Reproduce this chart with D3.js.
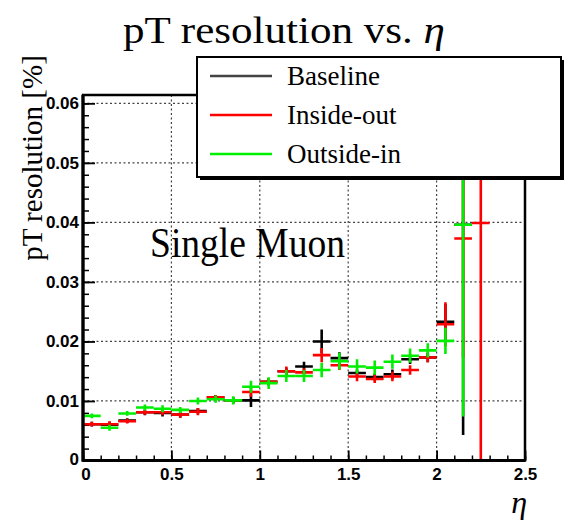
<!DOCTYPE html>
<html>
<head>
<meta charset="utf-8">
<script src="https://cdn.jsdelivr.net/npm/d3@7"></script>
<style>
  html, body { margin: 0; padding: 0; background: #fff; }
  svg { display: block; }
</style>
</head>
<body>
<svg id="chart" width="568" height="523"></svg>
<script>
// ---- data ----
const binCenters = [0.05,0.15,0.25,0.35,0.45,0.55,0.65,0.75,0.85,0.95,1.05,1.15,1.25,1.35,1.45,1.55,1.65,1.75,1.85,1.95,2.05,2.15,2.25];
const binWidth = 0.1;

const baselineValues = [0.0061,0.0060,0.0067,0.0081,0.0080,0.0077,0.0083,0.0106,0.0101,0.0101,0.0132,0.0150,0.0158,0.0200,0.0172,0.0147,0.0140,0.0145,0.0170,0.0173,0.0233,0.0396,null];
const baselineErrors = [0.0004,0.0005,0.0004,0.0005,0.0006,0.0005,0.0005,0.0004,0.0005,0.0011,0.0006,0.0006,0.0008,0.0020,0.0010,0.0006,0.0006,0.0008,0.0008,0.0008,0.0030,0.0353,null];

const insideOutValues = [0.0061,0.0061,0.0066,0.0081,0.0081,0.0077,0.0082,0.0106,0.0101,0.0115,0.0132,0.0150,0.0148,0.0177,0.0160,0.0141,0.0137,0.0141,0.0152,0.0173,0.0229,0.0373,0.0399];
const insideOutErrors = [0.0004,0.0005,0.0004,0.0004,0.0005,0.0005,0.0006,0.0004,0.0005,0.0008,0.0006,0.0008,0.0007,0.0012,0.0008,0.0008,0.0007,0.0008,0.0008,0.0008,0.0037,0.0200,0.0700];

const outsideInValues = [0.0075,0.0055,0.0079,0.0089,0.0087,0.0085,0.0100,0.0103,0.0101,0.0124,0.0130,0.0142,0.0142,0.0152,0.0167,0.0158,0.0156,0.0166,0.0176,0.0185,0.0201,0.0396,null];
const outsideInErrors = [0.0004,0.0005,0.0004,0.0005,0.0006,0.0005,0.0006,0.0006,0.0007,0.0010,0.0010,0.0010,0.0010,0.0012,0.0014,0.0012,0.0012,0.0012,0.0012,0.0012,0.0022,0.0322,null];

const seriesNames = ["Baseline","Inside-out","Outside-in"];
const seriesColors = ["#000000","#ff0000","#00ee00"];
const legendColors = ["#444444","#ff0000","#00ee00"];

const xDomain = [0, 2.5];
const yDomain = [0, 0.0614];
const xTickLabels = ["0","0.5","1","1.5","2","2.5"];
const yTickLabels = ["0","0.01","0.02","0.03","0.04","0.05","0.06"];

const titleText = "pT resolution vs. ";
const titleSymbol = "\u03b7";
const yAxisTitle = "pT resolution [%]";
const xAxisTitle = "\u03b7";
const annotation = "Single Muon";

// ---- layout ----
const pL = 83, pR = 525, pT = 95, pB = 460.5;
const svg = d3.select("#chart");

const x = d3.scaleLinear().domain(xDomain).range([pL, pR]);
const y = d3.scaleLinear().domain(yDomain).range([pB, pT]);

const serif = "'Liberation Serif','Times New Roman',serif";
const sans = "'Liberation Sans',Arial,Helvetica,sans-serif";

// grid
const xMajor = x.ticks(5);
const yMajor = y.ticks(6);
const grid = svg.append("g").attr("stroke", "#444").attr("stroke-width", 1.2).attr("stroke-dasharray", "2,2.5");
grid.selectAll("line.gx").data(xMajor.filter(d => d > 0 && d < 2.5)).enter().append("line")
  .attr("x1", d => x(d)).attr("x2", d => x(d)).attr("y1", pT).attr("y2", pB);
grid.selectAll("line.gy").data(yMajor.filter(d => d > 0)).enter().append("line")
  .attr("y1", d => y(d)).attr("y2", d => y(d)).attr("x1", pL).attr("x2", pR);

// axes: minor ticks
const xMinorAxis = d3.axisBottom(x).ticks(25).tickSize(-5).tickFormat("");
const yMinorAxis = d3.axisLeft(y).ticks(30).tickSize(-6).tickFormat("");
svg.append("g").attr("transform", `translate(0,${pB})`).call(xMinorAxis)
  .call(g => g.select(".domain").remove())
  .selectAll("line").attr("stroke", "#000").attr("stroke-width", 1.5);
svg.append("g").attr("transform", `translate(${pL},0)`).call(yMinorAxis)
  .call(g => g.select(".domain").remove())
  .selectAll("line").attr("stroke", "#000").attr("stroke-width", 1.5);

// axes: major ticks with labels
const xAxis = d3.axisBottom(x).tickValues(xMajor).tickSize(-10).tickPadding(7)
  .tickFormat((d, i) => xTickLabels[i]);
const yAxis = d3.axisLeft(y).tickValues(yMajor).tickSize(-12).tickPadding(4)
  .tickFormat((d, i) => yTickLabels[i]);
const gx = svg.append("g").attr("transform", `translate(0,${pB})`).call(xAxis);
gx.select(".domain").remove();
gx.selectAll("line").attr("stroke", "#000").attr("stroke-width", 1.8);
gx.selectAll("text").attr("font-family", sans).attr("font-weight", "bold").attr("font-size", 17).attr("fill", "#000");
gx.selectAll(".tick").filter(d => d === 0).select("text").attr("dx", "0.15em");
const gy = svg.append("g").attr("transform", `translate(${pL},0)`).call(yAxis);
gy.select(".domain").remove();
gy.selectAll("line").attr("stroke", "#000").attr("stroke-width", 1.8);
gy.selectAll("text").attr("font-family", sans).attr("font-weight", "bold").attr("font-size", 17).attr("fill", "#000");
gy.selectAll(".tick").filter(d => d === 0).select("text").attr("dy", "0.25em");

// data crosses
svg.append("clipPath").attr("id", "plotclip").append("rect")
  .attr("x", pL).attr("y", pT).attr("width", pR - pL).attr("height", pB - pT);
const plot = svg.append("g").attr("clip-path", "url(#plotclip)");
const allSeries = [
  {values: baselineValues, errors: baselineErrors},
  {values: insideOutValues, errors: insideOutErrors},
  {values: outsideInValues, errors: outsideInErrors}
];
allSeries.forEach((s, si) => {
  const pts = binCenters.map((c, i) => ({c, v: s.values[i], e: s.errors[i]})).filter(p => p.v != null);
  const g = plot.append("g").attr("stroke", seriesColors[si]).attr("stroke-width", 2.6);
  g.selectAll("line.h").data(pts).enter().append("line")
    .attr("x1", p => x(p.c - binWidth / 2)).attr("x2", p => x(p.c + binWidth / 2))
    .attr("y1", p => y(p.v)).attr("y2", p => y(p.v));
  g.selectAll("line.v").data(pts).enter().append("line")
    .attr("x1", p => x(p.c)).attr("x2", p => x(p.c))
    .attr("y1", p => y(p.v - p.e)).attr("y2", p => y(p.v + p.e));
});

// frame
svg.append("rect").attr("x", pL).attr("y", pT).attr("width", pR - pL).attr("height", pB - pT)
  .attr("fill", "none").attr("stroke", "#000").attr("stroke-width", 2.5);
svg.append("line").attr("x1", pL).attr("x2", pL).attr("y1", pT).attr("y2", pB + 1)
  .attr("stroke", "#000").attr("stroke-width", 3.2);
svg.append("line").attr("x1", pL).attr("x2", pR).attr("y1", pB).attr("y2", pB)
  .attr("stroke", "#000").attr("stroke-width", 3.2);

// annotation
svg.append("text").attr("x", 150).attr("y", 257).attr("font-family", serif).attr("font-size", 42)
  .attr("textLength", 195).attr("lengthAdjust", "spacingAndGlyphs").text(annotation);

// title
const tt = svg.append("text").attr("x", 284).attr("y", 43).attr("text-anchor", "middle")
  .attr("font-family", serif).attr("font-size", 38)
  .attr("textLength", 322).attr("lengthAdjust", "spacingAndGlyphs");
tt.append("tspan").text(titleText);
tt.append("tspan").attr("font-style", "italic").text(titleSymbol);

// y title
svg.append("text").attr("transform", "translate(42,158) rotate(-90)").attr("text-anchor", "middle")
  .attr("font-family", serif).attr("font-size", 29).text(yAxisTitle);

// x title
svg.append("text").attr("x", 527).attr("y", 513).attr("text-anchor", "end")
  .attr("font-family", serif).attr("font-style", "italic").attr("font-size", 32).text(xAxisTitle);

// legend
const lg = svg.append("g");
lg.append("rect").attr("x", 200).attr("y", 60).attr("width", 364).attr("height", 120).attr("fill", "#000");
lg.append("rect").attr("x", 197).attr("y", 57).attr("width", 364).attr("height", 120)
  .attr("fill", "#fff").attr("stroke", "#000").attr("stroke-width", 2);
const rows = [76, 115, 154];
seriesNames.forEach((n, i) => {
  lg.append("line").attr("x1", 210).attr("x2", 272).attr("y1", rows[i]).attr("y2", rows[i])
    .attr("stroke", legendColors[i]).attr("stroke-width", 2.5);
  lg.append("text").attr("x", 287).attr("y", rows[i] + 9).attr("font-family", serif).attr("font-size", 27).text(n);
});
</script>
</body>
</html>
